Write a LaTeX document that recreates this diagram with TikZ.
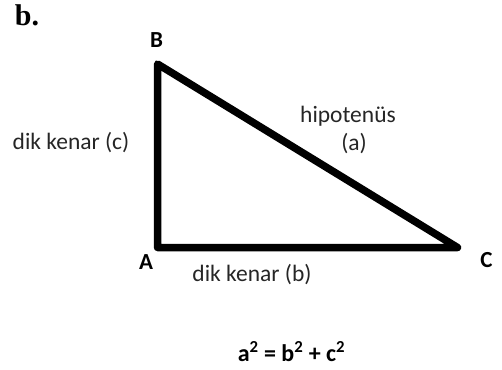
\documentclass[tikz,border=0pt]{standalone}
\usepackage{fontspec}
\setmainfont{Carlito}
\newfontfamily\serifb{Liberation Serif}
\begin{document}
\begin{tikzpicture}[x=1pt,y=-1pt,
  lbl/.style={font=\fontsize{23.5}{28}\selectfont, inner sep=0pt, text=black!85},
  vtx/.style={font=\bfseries\fontsize{23}{28}\selectfont, inner sep=0pt},
  side/.style={line width=7.5pt, line join=round}]
\useasboundingbox (0,0) rectangle (502,369);
\coordinate (A) at (157.5,247.5);
\coordinate (B) at (157.5,64);
\coordinate (C) at (457.5,247.5);
\draw[side] (A) -- (B) -- (C) -- cycle;
\node[font=\serifb\bfseries\fontsize{30}{34}\selectfont, inner sep=0pt] (title) at (27,15) {b.};
\node[vtx] (lB) at (156.5,40) {B};
\node[vtx] (lA) at (146,262) {A};
\node[vtx] (lC) at (486.5,260) {C};
\node[lbl] (c) at (71,142.5) {dik kenar (c)};
\node[lbl] (hyp) at (348,116) {hipotenüs};
\node[lbl] (a) at (354,144) {(a)};
\node[lbl] (b) at (252,275) {dik kenar (b)};
\node[font=\bfseries\fontsize{24}{28}\selectfont, inner sep=0pt] (eq) at (291.5,352) {a\textsuperscript{2} = b\textsuperscript{2} + c\textsuperscript{2}};
\end{tikzpicture}
\end{document}
